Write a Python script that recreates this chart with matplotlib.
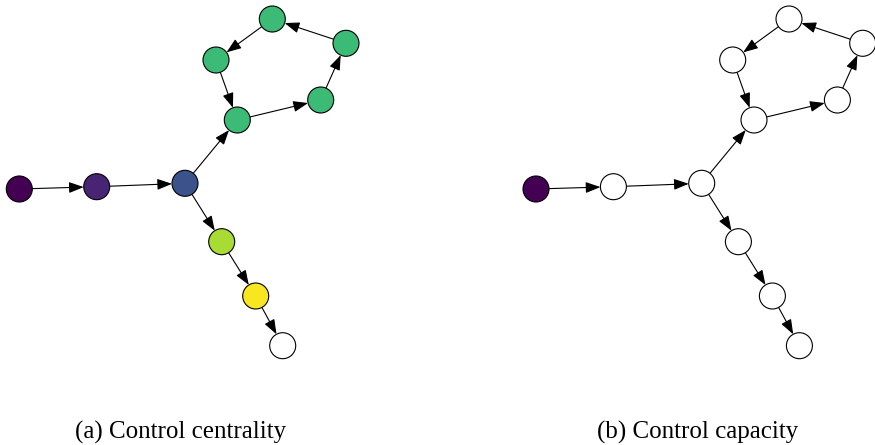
import numpy as np
import matplotlib
matplotlib.use("Agg")
import matplotlib.pyplot as plt
from matplotlib.patches import Circle, FancyArrowPatch

# node layout (same drawing for both panels)
nodes = ["a", "b", "c", "d", "e", "f", "g", "h", "i", "j", "k"]
node_x = [19.3, 96.7, 185.0, 237.3, 320.7, 346.0, 272.3, 216.0, 221.7, 255.7, 282.7]
node_y = [189.0, 186.7, 183.3, 120.0, 100.0, 43.3, 19.0, 60.0, 241.7, 296.0, 345.7]

edges = [("a", "b"), ("b", "c"), ("c", "d"), ("d", "e"), ("e", "f"), ("f", "g"),
         ("g", "h"), ("h", "d"), ("c", "i"), ("i", "j"), ("j", "k")]

# colour value per node (None -> white)
centrality = [0.0, 0.1, 0.25, 0.68, 0.68, 0.68, 0.68, 0.68, 0.87, 0.99, None]
capacity = [0.0, None, None, None, None, None, None, None, None, None, None]

captions = ["(a) Control centrality", "(b) Control capacity"]

R = 13.0
cmap = plt.get_cmap("viridis")
pos = {n: np.array([x, y]) for n, x, y in zip(nodes, node_x, node_y)}


def draw_graph(ax, values, caption):
    for u, v in edges:
        p, q = pos[u], pos[v]
        d = (q - p) / np.linalg.norm(q - p)
        arr = FancyArrowPatch(p + d * R, q - d * R,
                              arrowstyle="-|>,head_length=0.75,head_width=0.28",
                              mutation_scale=12, color="black", lw=0.8,
                              shrinkA=0, shrinkB=0, zorder=1, clip_on=False)
        ax.add_patch(arr)
    for n, val in zip(nodes, values):
        fc = "white" if val is None else cmap(val)
        ax.add_patch(Circle(pos[n], R, facecolor=fc, edgecolor="black",
                            lw=0.8, zorder=2, clip_on=False))
    ax.text(181.0, 439, caption, ha="center", va="baseline",
            fontsize=18, family="Liberation Serif")
    ax.set_xlim(8, 358)
    ax.set_ylim(445, 0)
    ax.axis("off")


fig = plt.figure(figsize=(8.75, 4.45), dpi=100)
ax1 = fig.add_axes([8 / 875, 0, 350 / 875, 1])
ax2 = fig.add_axes([524.7 / 875, 0, 350 / 875, 1])
draw_graph(ax1, centrality, captions[0])
draw_graph(ax2, capacity, captions[1])

fig.savefig("out.png", dpi=100)
